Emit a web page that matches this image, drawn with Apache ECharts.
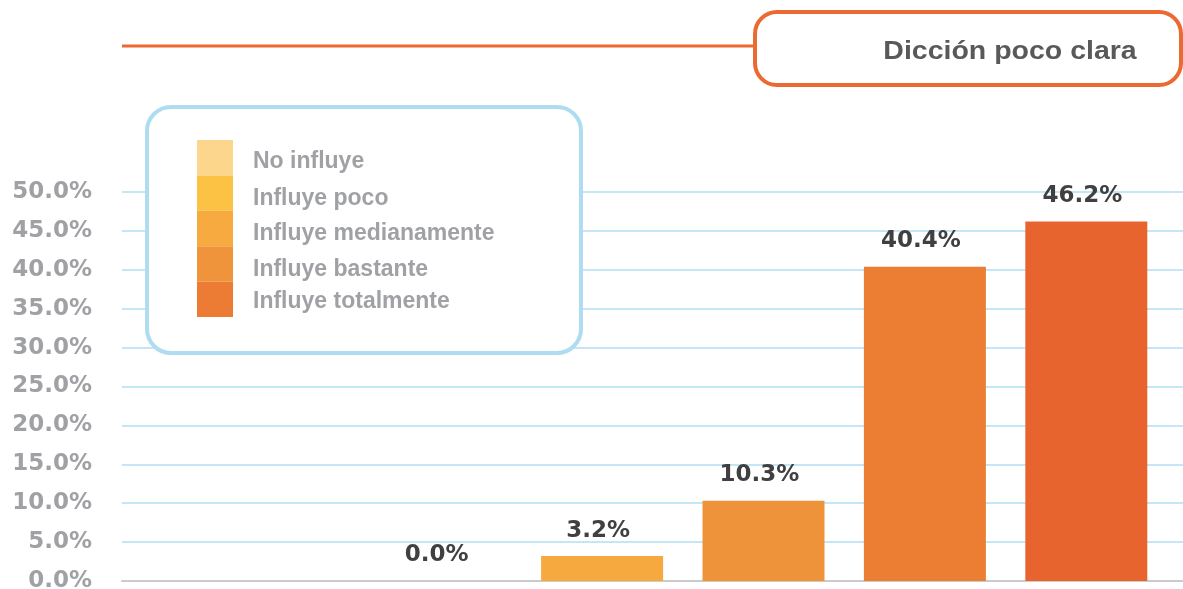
<!DOCTYPE html>
<html>
<head>
<meta charset="utf-8">
<script src="https://cdn.jsdelivr.net/npm/echarts@6/dist/echarts.min.js"></script>
<style>
html,body{margin:0;padding:0;background:#fff;}
#c{width:1183px;height:589px;}
</style>
</head>
<body>
<div id="c"></div>
<script>
// ---- data ----
const title = 'Dicción poco clara';
const categories = ['No influye', 'Influye poco', 'Influye medianamente', 'Influye bastante', 'Influye totalmente'];
const values = [0.0, 3.2, 10.3, 40.4, 46.2];
const barColors = ['#FCC243', '#F6A93E', '#EF933A', '#EC7E34', '#E8642F'];
const legendNames = ['No influye', 'Influye poco', 'Influye medianamente', 'Influye bastante', 'Influye totalmente'];
const legendColors = ['#FDD68D', '#FCC243', '#F6AA3F', '#F0943B', '#EC7C33'];
const yMin = 0, yMax = 50, yStep = 5;

const FONT = '"Liberation Sans", Arial, sans-serif';
const NUMFONT = '"DejaVu Sans", "Liberation Sans", sans-serif';
const chart = echarts.init(document.getElementById('c'), null, {renderer: 'canvas'});

const graphics = [
  // title connector line
  {type: 'line', shape: {x1: 122, y1: 46, x2: 755, y2: 46}, style: {stroke: '#EB6A32', lineWidth: 3}, z: 10},
  // title box
  {type: 'rect', shape: {x: 755, y: 12, width: 426, height: 73, r: 22}, style: {fill: '#fff', stroke: '#EB6A32', lineWidth: 4}, z: 11},
  {type: 'text', x: 1010, y: 52, scaleX: 1.14, style: {text: title, font: 'bold 25px ' + FONT, fill: '#595959', align: 'center', verticalAlign: 'middle'}, z: 12},
  // legend box
  {type: 'rect', shape: {x: 147, y: 107, width: 434, height: 246, r: 24}, style: {fill: '#fff', stroke: '#AEDDF2', lineWidth: 4}, z: 10}
];
const legendTextY = [162, 199, 234, 270, 302];
legendNames.forEach((name, i) => {
  graphics.push({type: 'rect', shape: {x: 197, y: 140 + i * 35.4, width: 36, height: 35.4}, style: {fill: legendColors[i]}, z: 11});
  graphics.push({type: 'text', x: 253, y: legendTextY[i], style: {text: name, font: 'bold 23px ' + FONT, fill: '#A0A1A5', align: 'left', verticalAlign: 'middle'}, z: 11});
});

const option = {
  backgroundColor: '#fff',
  animation: false,
  grid: [
    {left: 122, right: 0, top: 192, bottom: 8, outerBoundsMode: 'none', containLabel: false},
    {left: 360, right: 16, top: 192, bottom: 8, outerBoundsMode: 'none', containLabel: false}
  ],
  xAxis: [
    {type: 'category', gridIndex: 0, data: [''], axisTick: {show: false}, axisLabel: {show: false},
     axisLine: {show: true, lineStyle: {color: '#CBCBCB', width: 2}}},
    {type: 'category', gridIndex: 1, data: categories, axisTick: {show: false}, axisLabel: {show: false},
     axisLine: {show: false}}
  ],
  yAxis: [
    {type: 'value', gridIndex: 0, min: yMin, max: yMax, interval: yStep,
     axisLine: {show: false}, axisTick: {show: false},
     axisLabel: {margin: 30, formatter: v => v.toFixed(1) + '%', color: '#A0A1A5', fontSize: 23, fontWeight: 'bold', fontFamily: NUMFONT},
     splitLine: {show: true, lineStyle: {color: '#C4E6F6', width: 2}}},
    {type: 'value', gridIndex: 1, min: yMin, max: yMax, interval: yStep, show: false, splitLine: {show: false}}
  ],
  series: [{
    type: 'bar',
    xAxisIndex: 1,
    yAxisIndex: 1,
    barWidth: 122,
    data: values.map((v, i) => ({value: v, itemStyle: {color: barColors[i]}})),
    label: {show: true, position: 'top', distance: 14, formatter: p => p.value.toFixed(1) + '%',
            color: '#404040', fontSize: 23, fontWeight: 'bold', fontFamily: NUMFONT, offset: [-4, 0]}
  }],
  graphic: graphics
};
chart.setOption(option);
</script>
</body>
</html>
